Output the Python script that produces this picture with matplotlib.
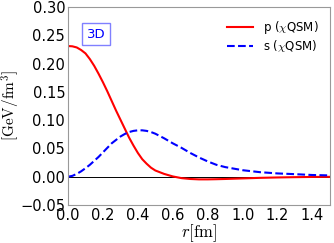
import numpy as np
import matplotlib
matplotlib.use("Agg")
import matplotlib.pyplot as plt

plt.rcParams["mathtext.fontset"] = "cm"

# radius grid [fm]
r = [0.000, 0.025, 0.050, 0.075, 0.100, 0.125, 0.150, 0.175, 0.200, 0.225,
     0.250, 0.275, 0.300, 0.325, 0.350, 0.375, 0.400, 0.425, 0.450, 0.475,
     0.50, 0.55, 0.60, 0.65, 0.70, 0.75, 0.80, 0.85, 0.90, 1.00, 1.10,
     1.20, 1.30, 1.40, 1.50]
# pressure p(r) [GeV/fm^3]
p_vals = [0.231, 0.2305, 0.2285, 0.224, 0.218, 0.208, 0.196, 0.182, 0.167,
          0.151, 0.134, 0.117, 0.101, 0.085, 0.069, 0.055, 0.042, 0.031,
          0.023, 0.016, 0.011, 0.005, 0.0005, -0.0025, -0.004, -0.0047,
          -0.0047, -0.0044, -0.004, -0.003, -0.002, -0.0013, -0.0008,
          -0.0004, -0.0002]
# shear s(r) [GeV/fm^3]
s_vals = [0.000, 0.0015, 0.005, 0.0095, 0.015, 0.021, 0.028, 0.035, 0.043,
          0.051, 0.059, 0.065, 0.071, 0.0755, 0.079, 0.081, 0.082, 0.082,
          0.081, 0.079, 0.076, 0.068, 0.059, 0.051, 0.042, 0.034, 0.027,
          0.021, 0.017, 0.0115, 0.008, 0.0058, 0.0045, 0.003, 0.0023]

fig = plt.figure(figsize=(3.34, 2.43), dpi=100)
ax = fig.add_axes([68/334, 1 - 205/243, 262/334, 198/243])

ax.axhline(0, color="black", linewidth=0.7)
ax.plot(r, p_vals, color="red", linewidth=1.5, label=r"p ($\chi$QSM)")
ax.plot(r, s_vals, color="blue", linewidth=1.5, linestyle="--", label=r"s ($\chi$QSM)")

ax.set_xlim(0, 1.5)
ax.set_ylim(-0.05, 0.30)
ax.set_xticks([0.0, 0.2, 0.4, 0.6, 0.8, 1.0, 1.2, 1.4])
ax.set_yticks([-0.05, 0.0, 0.05, 0.10, 0.15, 0.20, 0.25, 0.30])
ax.tick_params(length=0, labelsize=10.5, pad=2)
ax.spines[:].set_color("#999999")

ax.set_xlabel(r"$r[\mathrm{fm}]$", fontsize=12, labelpad=0)
ax.set_ylabel(r"$[\mathrm{GeV/fm}^3]$", fontsize=11)
ax.yaxis.set_label_coords(-0.175, 0.5)

ax.text(0.108, 0.862, "3D", transform=ax.transAxes, color="blue", fontsize=9.5,
        ha="center", va="center",
        bbox=dict(boxstyle="square,pad=0.35", facecolor="white",
                  edgecolor="#8080ff", linewidth=1))

ax.legend(loc="upper right", frameon=False, fontsize=8.5, handlelength=2.2,
          borderaxespad=0.6, labelspacing=0.2)

fig.savefig("out.png", dpi=100)
